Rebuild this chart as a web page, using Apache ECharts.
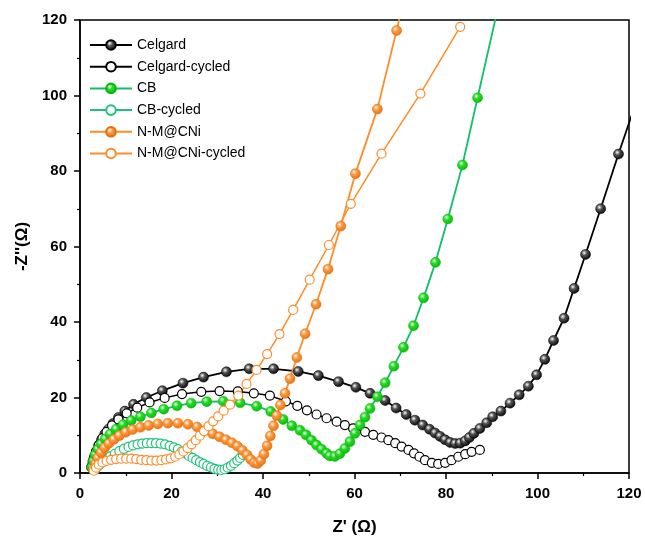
<!DOCTYPE html>
<html><head><meta charset="utf-8">
<script src="https://cdn.jsdelivr.net/npm/echarts@6/dist/echarts.min.js"></script>
<style>html,body{margin:0;padding:0;background:#fff}#c{width:645px;height:537px}</style>
</head><body><div id="c"></div>
<script>
const seriesNames = ['Celgard','Celgard-cycled','CB','CB-cycled','N-M@CNi','N-M@CNi-cycled'];
const xTicks = [0,20,40,60,80,100,120];
const yTicks = [0,20,40,60,80,100,120];

const celgard = [[2.5,1.5],[2.8,3.0],[3.2,4.5],[3.6,5.8],[4.1,7.3],[4.7,8.8],[5.4,10.3],[6.2,11.6],[7.2,13.1],[8.4,14.7],[9.8,16.4],[11.7,18.2],[14.5,20.0],[18,21.8],[22.5,23.8],[27,25.4],[32,26.8],[37,27.6],[42.3,27.6],[47.7,26.9],[52.1,25.8],[56.5,24.2],[60.3,22.7],[63.4,21.1],[66.7,19.2],[69.1,17.2],[71.3,15.5],[73.2,14.0],[74.9,12.7],[76.4,11.6],[77.6,10.6],[78.7,9.7],[79.8,8.8],[80.9,8.1],[82.0,7.8],[83.1,7.9],[84.2,8.5],[85.1,9.4],[86.1,10.5],[87.4,11.8],[88.9,13.3],[90.2,14.9],[92.0,16.4],[94.0,18.5],[96.0,20.7],[98.0,23.0],[99.8,26.0],[101.6,30.1],[103.5,35.1],[105.8,41.0],[108.0,48.9],[110.5,57.9],[113.8,70.0],[117.7,84.5],[121.5,98]];
const celgardCycled = [[2.6,1.8],[3.0,3.8],[3.5,5.6],[4.1,7.4],[4.9,9.2],[5.8,10.9],[7.0,12.6],[8.4,14.2],[10.2,15.8],[12.5,17.3],[15.2,18.7],[18.5,19.9],[22.3,20.9],[26.5,21.5],[30.5,21.7],[34.5,21.6],[38,21.1],[41.5,20.5],[45,19.0],[47.5,17.8],[49.6,16.6],[51.7,15.5],[53.9,14.5],[56.1,13.6],[57.9,12.7],[59.7,11.8],[62.3,10.9],[64.1,10.1],[65.9,9.4],[67.4,8.7],[68.9,7.9],[70.3,7.0],[71.8,6.1],[73.0,5.2],[74.2,4.3],[75.4,3.4],[76.9,2.7],[78.3,2.4],[79.8,2.7],[81.2,3.4],[82.7,4.3],[84.2,5.0],[85.6,5.6],[87.4,6.1]];
const cb = [[2.6,1.5],[2.9,3.2],[3.3,4.8],[3.9,6.3],[4.6,7.7],[5.5,9.0],[6.6,10.3],[7.9,11.6],[9.4,12.8],[11.2,13.9],[13.2,14.9],[15.6,15.9],[18.3,16.9],[21.2,17.8],[24.3,18.5],[27.7,18.9],[31.3,19.0],[35,18.6],[38.6,17.7],[41.7,16.3],[44.4,14.2],[46.3,12.5],[48.1,11.3],[49.4,10.1],[50.6,8.7],[51.7,7.4],[52.8,6.3],[53.9,5.2],[54.6,4.5],[55.7,4.4],[56.8,5.1],[57.9,6.5],[59.0,8.3],[60.1,10.5],[61.2,12.7],[62.3,14.8],[63.4,17.1],[65.0,20.2],[66.7,23.9],[68.6,28.3],[70.7,33.3],[72.9,39.0],[75.1,46.4],[77.7,55.8],[80.4,67.3],[83.6,81.6],[86.9,99.4],[91.5,124]];
const cbCycled = [[3.3,0.8],[4.0,1.8],[4.8,2.7],[5.7,3.6],[6.6,4.4],[7.6,5.1],[8.6,5.8],[9.6,6.4],[10.6,6.9],[11.6,7.3],[12.6,7.6],[13.6,7.8],[14.6,7.9],[15.6,7.9],[16.6,7.9],[17.6,7.8],[18.6,7.6],[19.6,7.2],[20.5,6.8],[21.4,6.3],[22.2,5.7],[23.0,5.1],[23.8,4.5],[24.6,4.0],[25.4,3.4],[26.2,2.9],[27.0,2.4],[27.8,1.9],[28.6,1.5],[29.4,1.1],[30.2,0.9],[30.9,0.8],[31.6,1.0],[32.3,1.4],[33.0,1.9],[33.7,2.6],[34.4,3.3],[35.0,4.0],[35.6,4.8]];
const nmcni = [[3.0,1.0],[3.4,2.5],[3.9,4.0],[4.6,5.4],[5.4,6.7],[6.3,7.8],[7.4,8.9],[8.6,9.9],[10.0,10.8],[11.5,11.5],[13.2,12.1],[15.0,12.6],[17.0,13.0],[19.2,13.2],[21.4,13.2],[23.6,12.9],[25.6,12.2],[27.4,11.3],[29.0,10.4],[30.5,9.6],[31.9,8.8],[33.2,8.0],[34.4,7.1],[35.5,6.0],[36.5,4.8],[37.3,3.6],[38.1,2.7],[38.8,2.5],[39.5,3.3],[40.2,5.0],[40.9,7.2],[41.6,9.8],[42.3,12.5],[43.0,15.2],[43.8,18.0],[44.8,21.1],[45.9,25.0],[47.4,30.6],[49.2,36.9],[51.6,44.7],[54.2,54.0],[57.0,65.4],[60.2,79.3],[65.0,96.4],[69.2,117.2],[70.5,124]];
const nmcniCycled = [[3.0,0.6],[3.5,1.4],[4.1,2.2],[4.9,2.8],[5.8,3.2],[6.8,3.5],[7.9,3.7],[9.0,3.8],[10.1,3.8],[11.2,3.8],[12.3,3.7],[13.4,3.5],[14.5,3.4],[15.6,3.3],[16.7,3.3],[17.8,3.4],[18.8,3.6],[19.8,3.9],[20.8,4.3],[21.7,4.9],[22.6,5.7],[23.5,6.6],[24.4,7.6],[25.3,8.7],[26.2,9.9],[27.1,11.1],[28.1,12.4],[29.1,13.7],[30.2,15.0],[31.4,16.5],[32.8,18.1],[34.6,20.5],[36.4,23.6],[38.6,27.3],[40.9,31.5],[43.6,36.8],[46.6,43.2],[50.2,51.2],[54.4,60.4],[59.2,71.3],[65.9,84.6],[74.4,100.5],[83.1,118.2]];

function sphere(base, dark){
  return {type:'radial', x:0.38, y:0.35, r:0.7, colorStops:[
    {offset:0,color:'#ffffff'},{offset:0.35,color:base},{offset:1,color:dark}]};
}
function filled(name, data, line, base, dark){
  return {name, type:'line', data, symbol:'circle', symbolSize:10,
    lineStyle:{color:line, width:1.8}, itemStyle:{color:sphere(base,dark), borderColor:dark, borderWidth:0.5},
    emphasis:{disabled:true}, animation:false};
}
function open(name, data, line){
  return {name, type:'line', data, symbol:'circle', symbolSize:9,
    lineStyle:{color:line, width:1.5}, itemStyle:{color:'#ffffff', borderColor:line, borderWidth:1.2},
    emphasis:{disabled:true}, animation:false};
}
const chart = echarts.init(document.getElementById('c'), null, {renderer:'canvas'});
const axisCommon = {
  min:0, max:120, interval:20,
  axisLine:{show:true, onZero:false, lineStyle:{color:'#000', width:1.5}},
  axisTick:{show:true, inside:false, length:6, lineStyle:{color:'#000', width:1.5}},
  minorTick:{show:true, splitNumber:2, length:3, lineStyle:{color:'#000', width:1.2}},
  splitLine:{show:false},
  axisLabel:{color:'#000', fontSize:15, fontWeight:'bold', fontFamily:'Liberation Sans, Arial'},
  nameTextStyle:{color:'#000', fontSize:17, fontWeight:'bold', fontFamily:'Liberation Sans, Arial'},
  nameLocation:'middle'
};
chart.setOption({
  animation:false,
  backgroundColor:'#fff',
  grid:{left:80, right:16, top:20, bottom:64, outerBoundsMode:'none', containLabel:false, show:true, borderColor:'#000', borderWidth:1.5, backgroundColor:'transparent'},
  legend:{left:84, top:33, orient:'vertical', itemWidth:42, itemHeight:12, itemGap:7.7,
    textStyle:{color:'#000', fontSize:14, fontFamily:'Liberation Sans, Arial'},
    data:seriesNames},
  xAxis:Object.assign({}, axisCommon, {type:'value', name:"Z' (Ω)", nameGap:46,
    axisLabel:Object.assign({}, axisCommon.axisLabel, {margin:13, formatter:v=>xTicks.includes(v)?String(v):''})}),
  yAxis:Object.assign({}, axisCommon, {type:'value', name:"-Z''(Ω)", nameGap:46,
    axisLabel:Object.assign({}, axisCommon.axisLabel, {margin:13, formatter:v=>yTicks.includes(v)?String(v):''})}),
  series:[
    filled(seriesNames[0], celgard, '#000000', '#555555', '#000000'),
    open(seriesNames[1], celgardCycled, '#000000'),
    filled(seriesNames[2], cb, '#12bf6a', '#22e022', '#10b010'),
    open(seriesNames[3], cbCycled, '#1ec27a'),
    filled(seriesNames[4], nmcni, '#ff8c2a', '#ff9a40', '#e07010'),
    open(seriesNames[5], nmcniCycled, '#ff8c2a')
  ]
});
</script></body></html>
